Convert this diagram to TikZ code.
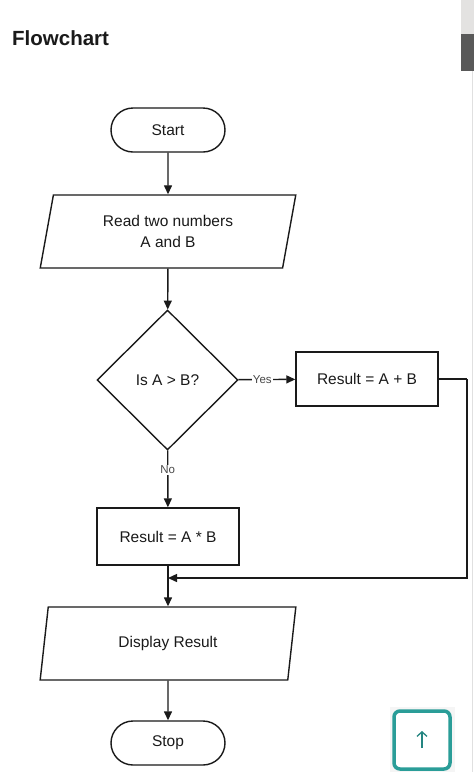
\documentclass[tikz,border=0pt]{standalone}
\usepackage{fontspec}
\setmainfont{Liberation Sans}
\usetikzlibrary{shapes.geometric,shapes.misc,arrows.meta}
\definecolor{ink}{HTML}{1A1A1A}
\definecolor{teal}{HTML}{2A9D98}
\begin{document}
\begin{tikzpicture}[x=1pt,y=-1pt,
  every node/.style={font=\fontsize{15.5}{21}\selectfont, text=ink},
  line/.style={draw=ink, line width=1.4pt},
  arr/.style={line, -{Triangle[length=9pt,width=8pt]}},
  term/.style={line, rounded rectangle, minimum width=114pt, minimum height=44pt, inner sep=0pt},
  io/.style={line, trapezium, trapezium left angle=77, trapezium right angle=103, trapezium stretches=true, minimum width=256pt, minimum height=73pt, inner sep=0pt, align=center},
  decide/.style={line, diamond, minimum width=141pt, minimum height=140pt, inner sep=0pt},
  proc/.style={line, rectangle, minimum width=142pt, inner sep=0pt},
  lbl/.style={font=\fontsize{11.5}{13}\selectfont, fill=white, inner sep=1pt, text=ink!80}
]
\useasboundingbox (0,0) rectangle (474,772);
\fill[white] (0,0) rectangle (474,772);
% title
\node[anchor=base west, font=\fontsize{20.5}{24}\selectfont\bfseries, inner sep=0pt] (title) at (12,45) {Flowchart};
% screenshot edge
\fill[brown!12!black!12] (461,0) rectangle (474,34);
\fill[black!65] (461,34) rectangle (474,71);
\draw[black!12, line width=0.8pt] (472,71) -- (472,772);
% nodes
\node[term] (start) at (168,130) {Start};
\node[io] (read) at (168,231.5) {Read two numbers\\A and B};
\node[decide] (dec) at (167.5,380) {Is A > B?};
\node[proc, minimum height=54pt] (plus) at (367,379) {Result = A + B};
\node[proc, minimum height=57pt] (times) at (168,536.5) {Result = A * B};
\node[io] (disp) at (168,643.5) {Display Result};
\node[term] (stop) at (168,743) {Stop};
\coordinate (corner) at (467,379);
\coordinate (merge) at (168,578);
% connectors
\draw[arr] (start) -- (read);
\draw[arr] (read) -- (dec);
\draw[arr] (dec) -- node[lbl, pos=0.42] {Yes} (plus);
\draw[arr] (dec) -- node[lbl, pos=0.34] {No} (times);
\draw[arr] (times) -- (disp);
\draw[line] (plus.east) -- (corner);
\draw[arr] (corner) |- (merge);
\draw[arr] (disp) -- (stop);
% scroll-to-top button
\fill[black!4] (390,707) rectangle (455,772);
\node[draw=teal, line width=3.5pt, fill=white, rounded corners=6pt, minimum width=56pt, minimum height=58pt] (btn) at (422,740) {};
\draw[teal!85!black, line width=1.3pt, -{Straight Barb[length=4.5pt,width=10pt]}] (422,748) -- (422,731);
\end{tikzpicture}
\end{document}
